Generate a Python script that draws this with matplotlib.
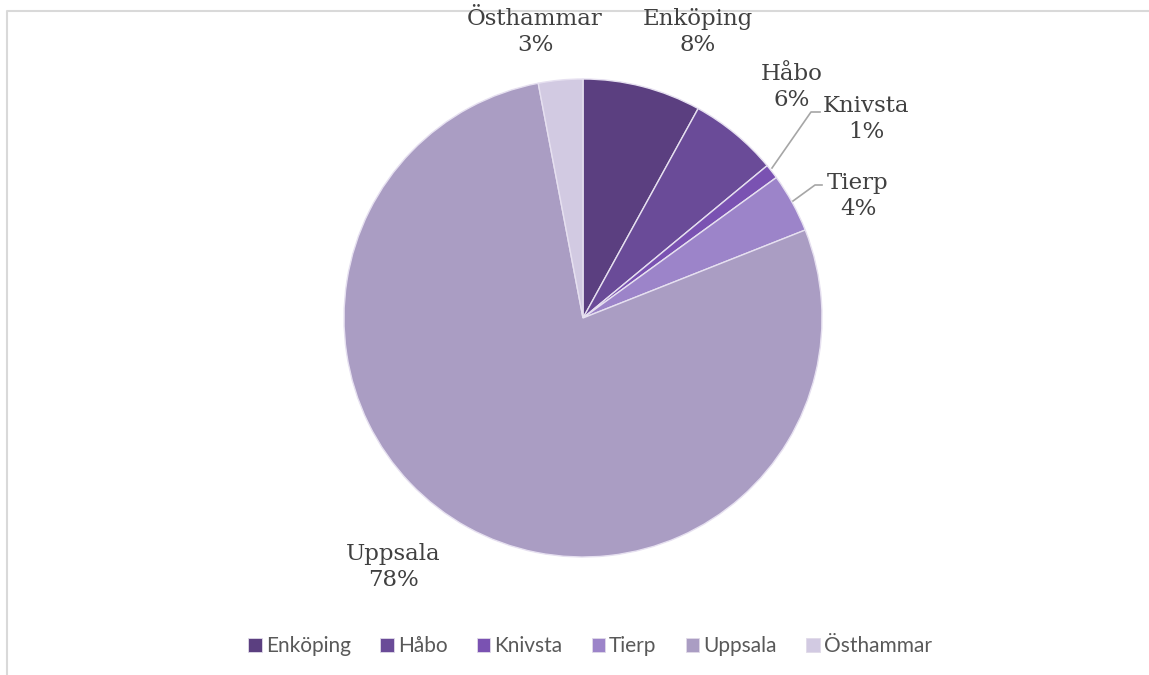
import matplotlib.pyplot as plt
from matplotlib.patches import Rectangle

# data
names = ['Enköping', 'Håbo', 'Knivsta', 'Tierp', 'Uppsala', 'Östhammar']
shares = [8, 6, 1, 4, 78, 3]
colors = ['#5b3f80', '#6a4b98', '#7a52b2', '#9c84c9', '#aa9dc3', '#d2cae2']

# label anchor points (pixels from top-left)
label_pos = {
    'Enköping': (698, 32),
    'Håbo': (792, 87),
    'Knivsta': (866, 119),
    'Tierp': (858, 196),
    'Uppsala': (393, 567),
    'Östhammar': (535, 32),
}

W, H = 1149, 675
fig = plt.figure(figsize=(W / 100, H / 100), dpi=100)
ax = fig.add_axes([0, 0, 1, 1])

# chart border (only top and left visible)
ax.plot([7, 7, W], [0, H - 11, H - 11], color='#d9d9d9', lw=1.5)

cx, cy, r = 583, H - 318, 239
wedges, _ = ax.pie(shares, colors=colors, startangle=90, counterclock=False,
                   center=(cx, cy), radius=r, frame=True,
                   wedgeprops=dict(edgecolor='#e6e0f0', linewidth=1.0))
ax.set_xlim(0, W)
ax.set_ylim(0, H)
ax.set_aspect('equal')
ax.axis('off')

for name, share in zip(names, shares):
    x, y = label_pos[name]
    ax.text(x, H - y, f'{name}\n{share}%', ha='center', va='center',
            fontsize=16.5, family='DejaVu Serif', color='#404040',
            linespacing=1.2)

# leader lines for the small slices
ax.plot([772, 811, 820], [H - 168, H - 112, H - 112], color='#a6a6a6', lw=1.2)
ax.plot([793, 815, 822], [H - 201, H - 185, H - 185], color='#a6a6a6', lw=1.2)

handles = [Rectangle((0, 0), 1, 1, facecolor=c, edgecolor='#e0dae8', lw=0.6) for c in colors]
leg = ax.legend(handles, names, ncol=6, frameon=False, loc='center',
                bbox_to_anchor=(590 / W, 1 - 646 / H), handlelength=0.65,
                handleheight=0.65, handletextpad=0.2, columnspacing=1.4,
                prop={'family': 'Lato', 'size': 15})
for t in leg.get_texts():
    t.set_color('#595959')

fig.savefig('out.png', dpi=100)
